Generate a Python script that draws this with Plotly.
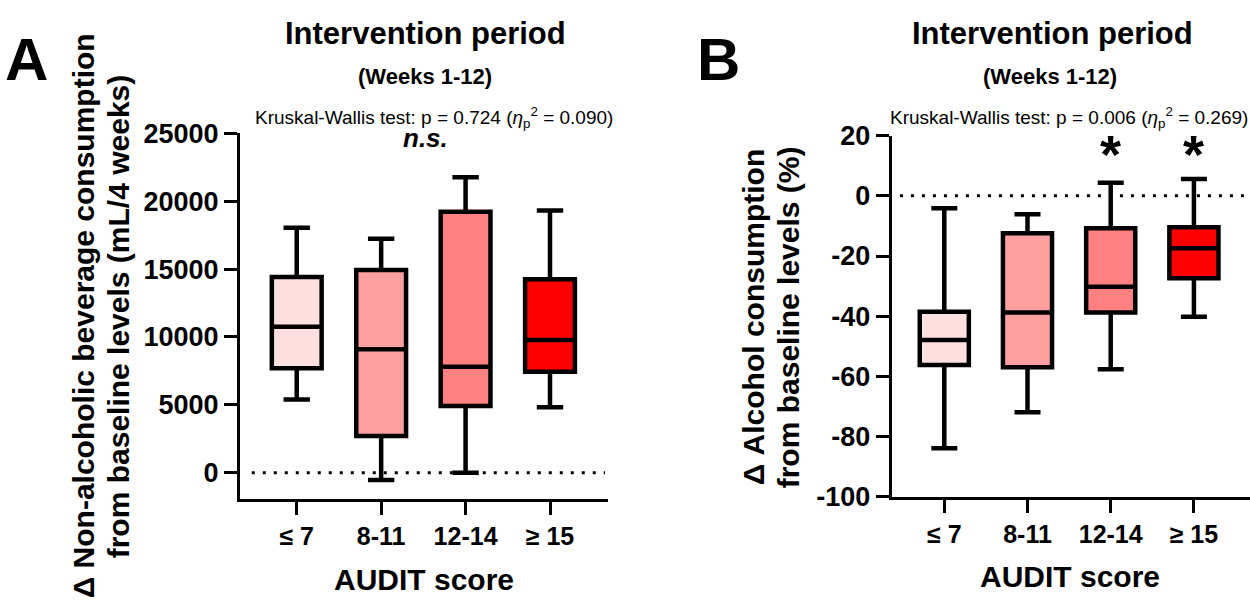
import plotly.graph_objects as go

# ---------------- data ----------------
categories = ["≤ 7", "8-11", "12-14", "≥ 15"]
box_colors = ["#FFDFDF", "#FFA0A0", "#FF8080", "#FF0000"]

# Panel A: change in non-alcoholic beverage consumption (mL/4 weeks)
a_lower = [5400, -540, 0, 4820]
a_q1 = [7690, 2700, 4915, 7440]
a_median = [10750, 9100, 7800, 9780]
a_q3 = [14420, 14935, 19230, 14250]
a_upper = [18050, 17240, 21765, 19305]
a_yticks = [0, 5000, 10000, 15000, 20000, 25000]

# Panel B: change in alcohol consumption (%)
b_lower = [-83.9, -71.9, -57.6, -40.2]
b_q1 = [-56.2, -57.0, -38.8, -27.4]
b_median = [-47.9, -38.8, -30.2, -17.4]
b_q3 = [-38.5, -12.4, -10.8, -10.4]
b_upper = [-4.1, -6.1, 4.4, 5.6]
b_yticks = [-100, -80, -60, -40, -20, 0, 20]
b_signif = ["", "", "*", "*"]

FONT = "Liberation Sans, Arial, sans-serif"
W, H = 1250, 601

def px(x):
    return x / W

def py(y):
    return 1 - y / H

fig = go.Figure()

def add_boxes(xa, ya, lower, q1, med, q3, upper):
    for i, cat in enumerate(categories):
        fig.add_trace(go.Box(
            x=[i], lowerfence=[lower[i]], q1=[q1[i]], median=[med[i]],
            q3=[q3[i]], upperfence=[upper[i]],
            width=0.59, whiskerwidth=0.53,
            fillcolor=box_colors[i],
            line=dict(color="black", width=4.5),
            boxpoints=False, showlegend=False, hoverinfo="skip",
            xaxis=xa, yaxis=ya,
        ))

add_boxes("x", "y", a_lower, a_q1, a_median, a_q3, a_upper)
add_boxes("x2", "y2", b_lower, b_q1, b_median, b_q3, b_upper)

xtickfont = dict(family=FONT, size=25, color="black", weight="bold")
ytickfont = dict(family=FONT, size=27, color="black", weight="bold")
common_x = dict(showline=True, linecolor="black", linewidth=3, ticks="outside",
                ticklen=13, tickwidth=3, tickcolor="black", showgrid=False,
                zeroline=False, tickvals=list(range(len(categories))),
                ticktext=categories, tickfont=xtickfont, fixedrange=True,
                automargin=False)
common_y = dict(showline=True, linecolor="black", linewidth=3, ticks="outside",
                ticklen=13, tickwidth=3, tickcolor="black", showgrid=False,
                zeroline=False, tickfont=ytickfont, fixedrange=True,
                automargin=False)

fig.update_layout(
    template="none",
    width=W, height=H,
    margin=dict(l=0, r=0, t=0, b=0, pad=0, autoexpand=False),
    paper_bgcolor="white", plot_bgcolor="white",
    boxmode="overlay", showlegend=False,
    font=dict(family=FONT, color="black"),
    xaxis=dict(domain=[px(240), px(608)], range=[-0.672, 3.687], anchor="y", **common_x),
    yaxis=dict(domain=[py(499.3), py(133.3)], range=[-1960, 25000], anchor="x",
               tickvals=a_yticks, ticktext=[str(v) for v in a_yticks], **common_y),
    xaxis2=dict(domain=[px(891.7), 1.0], range=[-0.632, 3.674], anchor="y2", **common_x),
    yaxis2=dict(domain=[py(496.7), py(135.7)], range=[-100, 20], anchor="x2",
                tickvals=b_yticks, ticktext=[str(v) for v in b_yticks], **common_y),
)

# dotted zero reference lines
fig.add_shape(type="line", xref="x domain", yref="y", x0=0.032, x1=0.992, y0=0, y1=0,
              line=dict(color="black", width=3, dash="3px,8px"))
fig.add_shape(type="line", xref="x2 domain", yref="y2", x0=0.023, x1=1.0, y0=0, y1=0,
              line=dict(color="black", width=3, dash="3px,8px"))

def ann(text, x, y, size, bold=True, italic=False, angle=0, xanchor="center"):
    fig.add_annotation(
        text=text, x=px(x), y=py(y), xref="paper", yref="paper",
        xanchor=xanchor, yanchor="middle", showarrow=False, textangle=angle,
        font=dict(family=FONT, size=size, color="black",
                  weight="bold" if bold else "normal",
                  style="italic" if italic else "normal"),
    )

# panel letters
ann("A", 26.5, 59, 60)
ann("B", 718, 59, 60)

# titles
ann("Intervention period", 425.5, 33.7, 31)
ann("(Weeks 1-12)", 424.5, 76, 22)
ann("Kruskal-Wallis test: p = 0.724 (<i>η</i><sub>p</sub><sup>2</sup> = 0.090)", 253, 117.3, 19, bold=False, xanchor="left")
ann("Intervention period", 1052, 33.7, 31)
ann("(Weeks 1-12)", 1050, 76, 22)
ann("Kruskal-Wallis test: p = 0.006 (<i>η</i><sub>p</sub><sup>2</sup> = 0.269)", 888, 117.3, 19, bold=False, xanchor="left")

# y-axis titles
ann("Δ Non-alcoholic beverage consumption", 83.3, 316, 30, angle=-90)
ann("from baseline levels (mL/4 weeks)", 118.3, 316, 30, angle=-90)
ann("Δ Alcohol consumption", 753.3, 317, 30, angle=-90)
ann("from baseline levels (%)", 788.3, 317, 30, angle=-90)

# x-axis titles
ann("AUDIT score", 423.7, 579, 30)
ann("AUDIT score", 1070, 576, 30)

# significance marks
ann("<i>n.s.</i>", 425.5, 138, 26)
for i, s in enumerate(b_signif):
    if s:
        fig.add_annotation(text=s, x=i, y=14.0, xref="x2", yref="y2", showarrow=False,
                           xanchor="center", yanchor="middle",
                           font=dict(family=FONT, size=54, color="black", weight="bold"))

fig.write_html("out.html")
